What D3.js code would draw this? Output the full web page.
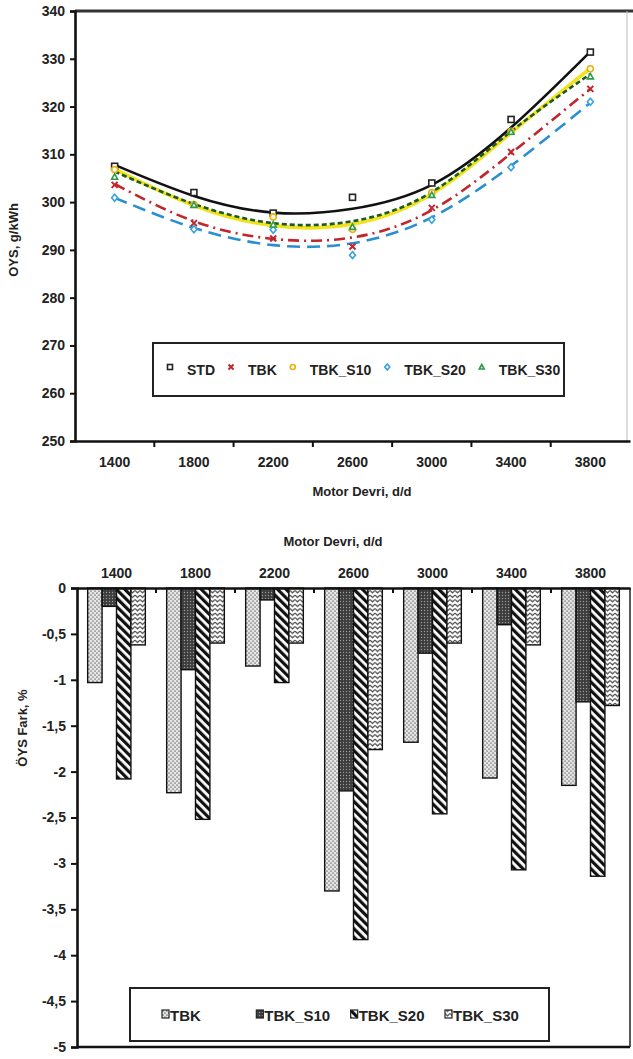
<!DOCTYPE html>
<html>
<head>
<meta charset="utf-8">
<script src="https://cdn.jsdelivr.net/npm/d3@7/dist/d3.min.js"></script>
<style>
  html, body { margin: 0; padding: 0; background: #fff; }
  svg { display: block; font-family: "Liberation Sans", Arial, sans-serif; }
</style>
</head>
<body>
<svg id="chart" width="633" height="1059"></svg>
<script>
// ---------------- DATA ----------------
const categories = ["1400", "1800", "2200", "2600", "3000", "3400", "3800"];

// Top chart: measured values (markers)
const std    = [307.5, 302.0, 297.7, 301.0, 304.0, 317.3, 331.4];
const tbk    = [303.6, 295.6, 292.4, 290.7, 298.8, 310.5, 323.7];
const tbkS10 = [306.8, 299.5, 296.9, 294.3, 302.0, 314.8, 327.9];
const tbkS20 = [300.9, 294.3, 294.2, 288.9, 296.3, 307.3, 321.0];
const tbkS30 = [305.3, 299.4, 295.3, 294.8, 301.5, 314.7, 326.3];

// Top chart: trend line values read at each category
const stdTrend    = [307.8, 301.3, 297.8, 298.6, 303.6, 315.6, 331.5];
const tbkTrend    = [303.8, 296.0, 292.3, 292.6, 298.3, 310.2, 323.7];
const tbkS10Trend = [306.9, 299.3, 295.1, 295.4, 301.7, 314.5, 328.0];
const tbkS20Trend = [300.9, 294.6, 291.0, 291.4, 296.8, 307.6, 320.8];
const tbkS30Trend = [306.4, 299.6, 295.6, 296.0, 302.1, 314.8, 326.8];

const topSeriesNames = ["STD", "TBK", "TBK_S10", "TBK_S20", "TBK_S30"];
const topYTicks = [250, 260, 270, 280, 290, 300, 310, 320, 330, 340];

// Bottom chart: OYS difference, %
const farkTBK = [-1.03, -2.23, -0.85, -3.30, -1.68, -2.07, -2.15];
const farkS10 = [-0.20, -0.89, -0.13, -2.21, -0.71, -0.40, -1.24];
const farkS20 = [-2.08, -2.52, -1.03, -3.83, -2.46, -3.07, -3.14];
const farkS30 = [-0.62, -0.60, -0.60, -1.76, -0.60, -0.62, -1.28];
const bottomSeriesNames = ["TBK", "TBK_S10", "TBK_S20", "TBK_S30"];
const bottomYTicks = [0, -0.5, -1, -1.5, -2, -2.5, -3, -3.5, -4, -4.5, -5];

// ---------------- SETUP ----------------
const svg = d3.select("#chart");
svg.append("rect").attr("width", 633).attr("height", 1059).attr("fill", "#fff");
const FONT = "\"Liberation Sans\", Arial, sans-serif";
const defs = svg.append("defs");

// ================= TOP CHART =================
const T = { left: 75, right: 630, top: 11, bottom: 441 };
const xT = d3.scaleBand().domain(categories).range([T.left, T.right]).padding(0);
const yT = d3.scaleLinear().domain([250, 340]).range([T.bottom, T.top]);
const cx = c => xT(c) + xT.bandwidth() / 2;

const topSeries = [
  { name: "STD",     vals: std,    trend: stdTrend,    line: "#111111", mark: "#222222", width: 2.6, dash: null,        shape: "square" },
  { name: "TBK",     vals: tbk,    trend: tbkTrend,    line: "#c0262c", mark: "#c0262c", width: 2.6, dash: "11,5,2,5",  shape: "x" },
  { name: "TBK_S10", vals: tbkS10, trend: tbkS10Trend, line: "#f1e21a", mark: "#e9b10c", width: 3.6, dash: null,        shape: "circle" },
  { name: "TBK_S20", vals: tbkS20, trend: tbkS20Trend, line: "#2a8fd1", mark: "#36a3dc", width: 2.6, dash: "13,7",      shape: "diamond" },
  { name: "TBK_S30", vals: tbkS30, trend: tbkS30Trend, line: "#1c5a1e", mark: "#2e9a4c", width: 2.6, dash: "5,3",       shape: "triangle" }
];

const gT = svg.append("g");

// frame: top border and right border
gT.append("line").attr("x1", T.left).attr("x2", 633).attr("y1", T.top).attr("y2", T.top)
  .attr("stroke", "#333").attr("stroke-width", 3);
gT.append("line").attr("x1", T.right - 3).attr("x2", T.right - 3).attr("y1", T.top).attr("y2", T.bottom)
  .attr("stroke", "#bbb").attr("stroke-width", 1);

// lines
const lineGen = d3.line().x((d, i) => cx(categories[i])).y(d => yT(d)).curve(d3.curveNatural);
topSeries.forEach(s => {
  gT.append("path").datum(s.trend)
    .attr("d", lineGen)
    .attr("fill", "none")
    .attr("stroke", s.line)
    .attr("stroke-width", s.width)
    .attr("stroke-dasharray", s.dash)
    .attr("stroke-linecap", s.dash ? "butt" : "round");
});

function drawMarker(g, shape, x, y, color, size) {
  const r = size / 2;
  if (shape === "square") {
    g.append("rect").attr("x", x - r).attr("y", y - r).attr("width", size).attr("height", size)
      .attr("fill", "#fff").attr("stroke", color).attr("stroke-width", 1.6);
  } else if (shape === "x") {
    g.append("path").attr("d", `M${x - r},${y - r}L${x + r},${y + r}M${x + r},${y - r}L${x - r},${y + r}`)
      .attr("stroke", color).attr("stroke-width", 2);
  } else if (shape === "circle") {
    g.append("circle").attr("cx", x).attr("cy", y).attr("r", r)
      .attr("fill", "#fff").attr("stroke", color).attr("stroke-width", 1.6);
  } else if (shape === "diamond") {
    g.append("path").attr("d", `M${x},${y - r - 0.5}L${x + r},${y}L${x},${y + r + 0.5}L${x - r},${y}Z`)
      .attr("fill", "#fff").attr("stroke", color).attr("stroke-width", 1.6);
  } else if (shape === "triangle") {
    g.append("path").attr("d", `M${x},${y - r}L${x + r},${y + r * 0.8}L${x - r},${y + r * 0.8}Z`)
      .attr("fill", "#fff").attr("stroke", color).attr("stroke-width", 1.6);
  }
}

// markers
topSeries.forEach(s => {
  s.vals.forEach((v, i) => drawMarker(gT, s.shape, cx(categories[i]), yT(v), s.mark, 6));
});

// y axis
const yAxisT = d3.axisLeft(yT).tickValues(topYTicks).tickSize(5).tickPadding(5).tickFormat(d3.format("d"));
const yaT = gT.append("g").attr("transform", `translate(${T.left},0)`).call(yAxisT);
yaT.select(".domain").attr("stroke", "#111").attr("stroke-width", 2.6);
yaT.selectAll(".tick line").attr("stroke", "#111").attr("stroke-width", 2);
yaT.selectAll(".tick text").attr("font-family", FONT).attr("font-size", 14).attr("font-weight", "bold").attr("fill", "#222");

// x axis
const xAxisT = d3.axisBottom(xT).tickSize(0).tickPadding(16);
const xaT = gT.append("g").attr("transform", `translate(0,${T.bottom})`).call(xAxisT);
xaT.select(".domain").attr("stroke", "#111").attr("stroke-width", 2.6);
xaT.selectAll(".tick text").attr("font-family", FONT).attr("font-size", 14).attr("font-weight", "bold").attr("fill", "#222");
// boundary tick marks
const boundaries = categories.map(c => xT(c)).concat([xT(categories[categories.length - 1]) + xT.bandwidth()]);
gT.selectAll(".btick").data(boundaries.slice(1, -1)).enter().append("line")
  .attr("x1", d => d).attr("x2", d => d).attr("y1", T.bottom).attr("y2", T.bottom + 6)
  .attr("stroke", "#111").attr("stroke-width", 2);

// axis titles
gT.append("text").attr("x", 362).attr("y", 496).attr("text-anchor", "middle")
  .attr("font-family", FONT).attr("font-size", 13).attr("font-weight", "bold").attr("fill", "#222")
  .text("Motor Devri, d/d");
gT.append("text").attr("transform", "translate(18,240) rotate(-90)").attr("text-anchor", "middle")
  .attr("font-family", FONT).attr("font-size", 13).attr("font-weight", "bold").attr("fill", "#222")
  .text("OYS, g/kWh");

// legend (top)
const legT = gT.append("g");
legT.append("rect").attr("x", 153).attr("y", 343).attr("width", 411).attr("height", 53)
  .attr("fill", "#fff").attr("stroke", "#222").attr("stroke-width", 2);
let lx = 170;
topSeries.forEach(s => {
  drawMarker(legT, s.shape, lx, 367, s.mark, 5);
  const t = legT.append("text").attr("x", lx + 17).attr("y", 375)
    .attr("font-family", FONT).attr("font-size", 14).attr("font-weight", "bold").attr("fill", "#222")
    .text(s.name);
  lx = lx + 17 + t.node().getComputedTextLength() + 16;
});

// ================= BOTTOM CHART =================
const B = { left: 77, right: 630, top: 588, bottom: 1047 };
const xB = d3.scaleBand().domain(categories).range([B.left, B.right]).padding(0);
const xB1 = d3.scaleBand().domain(bottomSeriesNames).range([0, xB.bandwidth()]).paddingInner(0).paddingOuter(0.74);
const yB = d3.scaleLinear().domain([-5, 0]).range([B.bottom, B.top]);

// patterns
const pDots = defs.append("pattern").attr("id", "pDots").attr("patternUnits", "userSpaceOnUse").attr("width", 4).attr("height", 4);
pDots.append("rect").attr("width", 4).attr("height", 4).attr("fill", "#e6e6e6");
pDots.append("circle").attr("cx", 1).attr("cy", 1).attr("r", 0.85).attr("fill", "#7a7a7a");
pDots.append("circle").attr("cx", 3).attr("cy", 3).attr("r", 0.85).attr("fill", "#7a7a7a");

const pDark = defs.append("pattern").attr("id", "pDark").attr("patternUnits", "userSpaceOnUse").attr("width", 3).attr("height", 3);
pDark.append("rect").attr("width", 3).attr("height", 3).attr("fill", "#3c3c3c");
pDark.append("circle").attr("cx", 1.5).attr("cy", 1.5).attr("r", 0.7).attr("fill", "#9a9a9a");

const pDiag = defs.append("pattern").attr("id", "pDiag").attr("patternUnits", "userSpaceOnUse")
  .attr("width", 6).attr("height", 6).attr("patternTransform", "rotate(-45)");
pDiag.append("rect").attr("width", 6).attr("height", 6).attr("fill", "#fff");
pDiag.append("rect").attr("width", 3.2).attr("height", 6).attr("fill", "#111");

const pZig = defs.append("pattern").attr("id", "pZig").attr("patternUnits", "userSpaceOnUse").attr("width", 5).attr("height", 4.5);
pZig.append("rect").attr("width", 5).attr("height", 4.5).attr("fill", "#fff");
pZig.append("path").attr("d", "M0,1 L2.5,3.4 L5,1").attr("fill", "none").attr("stroke", "#444").attr("stroke-width", 1.2);

const bottomSeries = [
  { name: "TBK",     vals: farkTBK, fill: "url(#pDots)" },
  { name: "TBK_S10", vals: farkS10, fill: "url(#pDark)" },
  { name: "TBK_S20", vals: farkS20, fill: "url(#pDiag)" },
  { name: "TBK_S30", vals: farkS30, fill: "url(#pZig)" }
];

const gB = svg.append("g");

// bars
categories.forEach((c, i) => {
  bottomSeries.forEach(s => {
    const v = s.vals[i];
    gB.append("rect")
      .attr("x", xB(c) + xB1(s.name))
      .attr("y", yB(0))
      .attr("width", xB1.bandwidth())
      .attr("height", yB(v) - yB(0))
      .attr("fill", s.fill)
      .attr("stroke", "#111").attr("stroke-width", 1.4);
  });
});

// frame
gB.append("line").attr("x1", B.left).attr("x2", B.right).attr("y1", B.bottom).attr("y2", B.bottom)
  .attr("stroke", "#111").attr("stroke-width", 2.6);
gB.append("line").attr("x1", B.right).attr("x2", B.right).attr("y1", B.top).attr("y2", B.bottom)
  .attr("stroke", "#222").attr("stroke-width", 1.5);

// y axis
const yAxisB = d3.axisLeft(yB).tickValues(bottomYTicks).tickSize(6).tickPadding(5)
  .tickFormat(d => String(d).replace(".", ","));
const yaB = gB.append("g").attr("transform", `translate(${B.left},0)`).call(yAxisB);
yaB.select(".domain").attr("stroke", "#111").attr("stroke-width", 2.6);
yaB.selectAll(".tick line").attr("stroke", "#111").attr("stroke-width", 2);
yaB.selectAll(".tick text").attr("font-family", FONT).attr("font-size", 14).attr("font-weight", "bold").attr("fill", "#222");

// x axis on top
const xAxisB = d3.axisTop(xB).tickSize(0).tickPadding(10);
const xaB = gB.append("g").attr("transform", `translate(0,${B.top})`).call(xAxisB);
xaB.select(".domain").attr("stroke", "#111").attr("stroke-width", 2.6);
xaB.selectAll(".tick text").attr("font-family", FONT).attr("font-size", 14).attr("font-weight", "bold").attr("fill", "#222");
const boundariesB = categories.map(c => xB(c));
gB.selectAll(".bticks").data(boundariesB.slice(1)).enter().append("line")
  .attr("x1", d => d).attr("x2", d => d).attr("y1", B.top).attr("y2", B.top + 5)
  .attr("stroke", "#111").attr("stroke-width", 2);

// titles
gB.append("text").attr("x", 333).attr("y", 546).attr("text-anchor", "middle")
  .attr("font-family", FONT).attr("font-size", 13).attr("font-weight", "bold").attr("fill", "#222")
  .text("Motor Devri, d/d");
gB.append("text").attr("transform", "translate(27,728) rotate(-90)").attr("text-anchor", "middle")
  .attr("font-family", FONT).attr("font-size", 13).attr("font-weight", "bold").attr("fill", "#222")
  .text("ÖYS Fark, %");

// legend (bottom)
const legB = gB.append("g");
legB.append("rect").attr("x", 130).attr("y", 988).attr("width", 419).attr("height", 53)
  .attr("fill", "#fff").attr("stroke", "#222").attr("stroke-width", 2);
const legBx = d3.scalePoint().domain(bottomSeriesNames).range([162, 445]);
bottomSeries.forEach(s => {
  const x = legBx(s.name);
  legB.append("rect").attr("x", x).attr("y", 1010).attr("width", 7).attr("height", 8)
    .attr("fill", s.fill).attr("stroke", "#222").attr("stroke-width", 1.2);
  legB.append("text").attr("x", x + 8).attr("y", 1021)
    .attr("font-family", FONT).attr("font-size", 15).attr("fill", "#222").attr("font-weight", "bold")
    .attr("textLength", null)
    .text(s.name);
});
</script>
</body>
</html>
